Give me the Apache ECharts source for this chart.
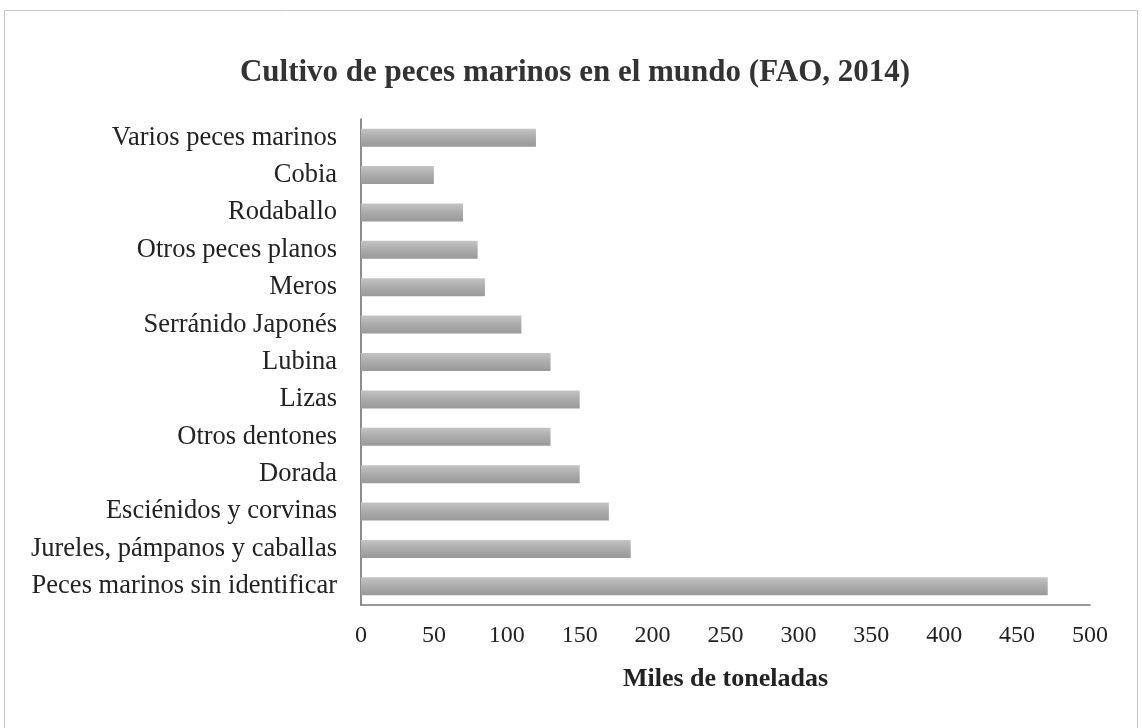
<!DOCTYPE html>
<html>
<head>
<meta charset="utf-8">
<script src="https://cdn.jsdelivr.net/npm/echarts@6/dist/echarts.min.js"></script>
<style>
html,body{margin:0;padding:0;background:#fff;}
#chart{width:1142px;height:728px;}
</style>
</head>
<body>
<div id="chart"></div>
<script>
const titleText = 'Cultivo de peces marinos en el mundo (FAO, 2014)';
const categories = [
  'Varios peces marinos',
  'Cobia',
  'Rodaballo',
  'Otros peces planos',
  'Meros',
  'Serránido Japonés',
  'Lubina',
  'Lizas',
  'Otros dentones',
  'Dorada',
  'Esciénidos y corvinas',
  'Jureles, pámpanos y caballas',
  'Peces marinos sin identificar'
];
const values = [120, 50, 70, 80, 85, 110, 130, 150, 130, 150, 170, 185, 471];
const xAxisName = 'Miles de toneladas';

const chart = echarts.init(document.getElementById('chart'), null, {renderer: 'canvas'});
const serif = '"Liberation Serif", "DejaVu Serif", serif';
chart.setOption({
  backgroundColor: '#ffffff',
  animation: false,
  graphic: [{
    type: 'rect',
    shape: {x: 4.5, y: 10.5, width: 1133, height: 730},
    style: {fill: 'none', stroke: '#c4c4c4', lineWidth: 1},
    silent: true
  }],
  title: {
    text: titleText,
    left: 570,
    textAlign: 'center',
    top: 52,
    textStyle: {fontFamily: serif, fontWeight: 'bold', fontSize: 31, color: '#333'}
  },
  grid: {left: 361, right: 52, top: 119, bottom: 123, containLabel: false},
  xAxis: {
    type: 'value',
    min: 0, max: 500, interval: 50,
    name: xAxisName,
    nameLocation: 'middle',
    nameGap: 61,
    nameTextStyle: {fontFamily: serif, fontWeight: 'bold', fontSize: 26, color: '#222'},
    axisLine: {show: true, lineStyle: {color: '#777', width: 1.5}},
    axisTick: {show: false},
    splitLine: {show: false},
    axisLabel: {fontFamily: serif, fontSize: 24, color: '#222', margin: 19}
  },
  yAxis: {
    type: 'category',
    data: categories,
    inverse: true,
    axisLine: {show: true, lineStyle: {color: '#666', width: 1.5}},
    axisTick: {show: false},
    axisLabel: {fontFamily: serif, fontSize: 26.5, color: '#222', margin: 24}
  },
  series: [{
    type: 'bar',
    data: values,
    barWidth: 18,
    itemStyle: {
      color: new echarts.graphic.LinearGradient(0, 0, 0, 1, [
        {offset: 0, color: '#c4c4c4'},
        {offset: 0.5, color: '#ababab'},
        {offset: 1, color: '#999999'}
      ])
    }
  }]
});
</script>
</body>
</html>
